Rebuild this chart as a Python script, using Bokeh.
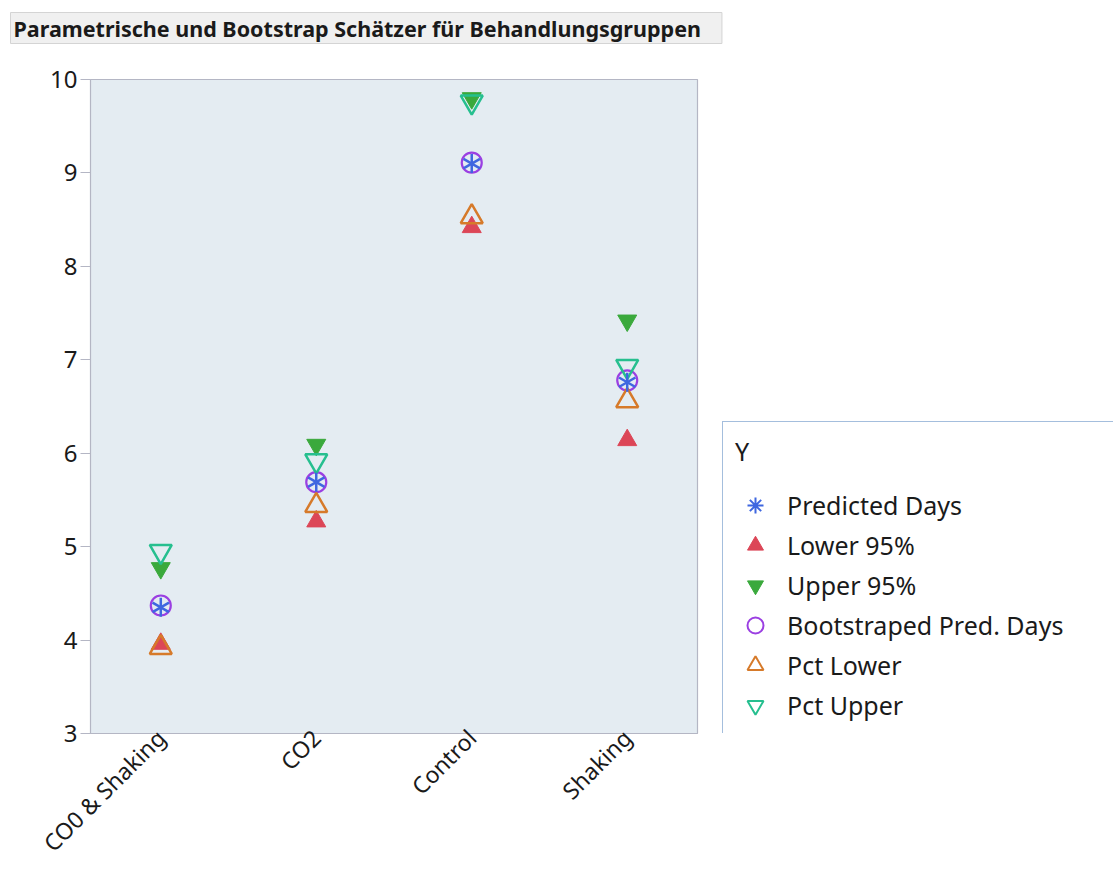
import math

from bokeh.embed import file_html
from bokeh.layouts import column, row
from bokeh.models import (FactorRange, FixedTicker, Label, Legend, LegendItem,
                          Range1d)
from bokeh.plotting import figure
from bokeh.resources import INLINE

# Treatment groups and the estimates per group (days)
groups = ["CO0 & Shaking", "CO2", "Control", "Shaking"]
predicted_days = [4.35, 5.69, 9.10, 6.76]
lower_95 = [3.96, 5.27, 8.42, 6.14]
upper_95 = [4.77, 6.09, 9.80, 7.42]
boot_pred_days = [4.37, 5.69, 9.11, 6.78]
pct_lower = [3.92, 5.44, 8.53, 6.56]
pct_upper = [4.95, 5.92, 9.76, 6.93]
y_ticks = [3, 4, 5, 6, 7, 8, 9, 10]

FONT = "Noto Sans"
TEXT = "#1a1a1a"
GRAY = "#b4b6c4"

c_pred = "#3f67e0"
c_low = "#dc4657"
c_up = "#3aa93c"
c_boot = "#9b3fe2"
c_plow = "#d67a2a"
c_pup = "#26bf8f"


def blank(width, height, **kw):
    f = figure(width=width, height=height, output_backend="svg",
               toolbar_location=None, min_border=0, outline_line_color=None,
               background_fill_color="white", border_fill_color="white", **kw)
    f.axis.visible = False
    f.grid.visible = False
    return f


# heading strip
head = blank(1113, 50, x_range=Range1d(0, 1), y_range=Range1d(0, 1))
head.add_layout(Label(
    x=10, y=22.5, x_units="screen", y_units="screen",
    text="Parametrische und Bootstrap Schätzer für Behandlungsgruppen",
    text_font=FONT, text_font_size="21.5px", text_font_style="bold",
    text_color=TEXT, text_baseline="middle", text_align="left",
    background_fill_color="#f0f0f0", border_line_color="#d4d4d4",
    padding=dict(left=3, right=21, top=1, bottom=1),
))

# main plot
p = figure(
    width=720, height=826,
    x_range=FactorRange(factors=groups, range_padding=-0.024),
    y_range=Range1d(3, 10),
    output_backend="svg", toolbar_location=None, title=None,
    min_border_left=90, min_border_top=29, min_border_right=23, min_border_bottom=143,
    background_fill_color="#e4ecf2", border_fill_color="white",
    outline_line_color=GRAY, outline_line_width=1.2,
)
p.xgrid.visible = False
p.ygrid.visible = False

p.yaxis.ticker = FixedTicker(ticks=y_ticks)
p.yaxis.major_label_text_font = FONT
p.yaxis.major_label_text_font_size = "24px"
p.yaxis.major_label_text_color = TEXT
p.yaxis.major_tick_out = 10
p.yaxis.major_tick_in = 0
p.yaxis.minor_tick_out = 0
p.yaxis.minor_tick_in = 0
p.yaxis.major_label_standoff = 3
p.yaxis.axis_line_color = GRAY
p.yaxis.major_tick_line_color = GRAY

p.xaxis.major_label_orientation = math.pi / 4
p.xaxis.major_label_text_font = FONT
p.xaxis.major_label_text_font_size = "23px"
p.xaxis.major_label_text_color = TEXT
p.xaxis.major_tick_out = 0
p.xaxis.major_tick_in = 0
p.xaxis.major_label_standoff = 0
p.xaxis.axis_line_color = GRAY

p.scatter(groups, boot_pred_days, marker="circle", size=20,
          fill_color=None, line_color=c_boot, line_width=2.2)
p.scatter(groups, lower_95, marker="triangle", size=19,
          fill_color=c_low, line_color=c_low, line_width=1)
p.scatter(groups, upper_95, marker="inverted_triangle", size=19,
          fill_color=c_up, line_color=c_up, line_width=1)
p.scatter(groups, pct_lower, marker="triangle", size=22,
          fill_color=None, line_color=c_plow, line_width=2.5)
p.scatter(groups, pct_upper, marker="inverted_triangle", size=22,
          fill_color=None, line_color=c_pup, line_width=2.5)
# six-armed asterisk built from three rotated dashes
for a in (math.pi / 2, math.pi / 6, -math.pi / 6):
    p.scatter(groups, predicted_days, marker="dash", size=19, angle=a,
              line_color=c_pred, line_width=2.5)

# legend panel: hidden copies of the series supply the legend keys
key = blank(393, 826, x_range=FactorRange(factors=groups), y_range=Range1d(3, 10))
k_pred = key.scatter(groups, predicted_days, marker="asterisk", line_color=c_pred,
                     line_width=2, visible=False)
k_low = key.scatter(groups, lower_95, marker="triangle", fill_color=c_low,
                    line_color=c_low, visible=False)
k_up = key.scatter(groups, upper_95, marker="inverted_triangle", fill_color=c_up,
                   line_color=c_up, visible=False)
k_boot = key.scatter(groups, boot_pred_days, marker="circle", fill_color=None,
                     line_color=c_boot, line_width=2, visible=False)
k_plow = key.scatter(groups, pct_lower, marker="triangle", fill_color=None,
                     line_color=c_plow, line_width=2, visible=False)
k_pup = key.scatter(groups, pct_upper, marker="inverted_triangle", fill_color=None,
                    line_color=c_pup, line_width=2, visible=False)

legend = Legend(
    items=[
        LegendItem(label="Predicted Days", renderers=[k_pred]),
        LegendItem(label="Lower 95%", renderers=[k_low]),
        LegendItem(label="Upper 95%", renderers=[k_up]),
        LegendItem(label="Bootstraped Pred. Days", renderers=[k_boot]),
        LegendItem(label="Pct Lower", renderers=[k_plow]),
        LegendItem(label="Pct Upper", renderers=[k_pup]),
    ],
    location=(2, -5),
    title="Y",
    title_text_font=FONT, title_text_font_size="25px", title_text_color=TEXT,
    title_text_font_style="normal", title_standoff=17,
    label_text_font=FONT, label_text_font_size="25px", label_text_color=TEXT,
    glyph_height=40, glyph_width=40, spacing=0, padding=12, margin=0,
    label_standoff=12, label_width=344,
    border_line_color="#4a7ebb", border_line_width=1.5,
    background_fill_color="white", background_fill_alpha=1,
    inactive_fill_alpha=0,
)
key.add_layout(legend)

layout = column(head, row(p, key, spacing=0), spacing=0)

open("out.html", "w").write(file_html(layout, INLINE))
